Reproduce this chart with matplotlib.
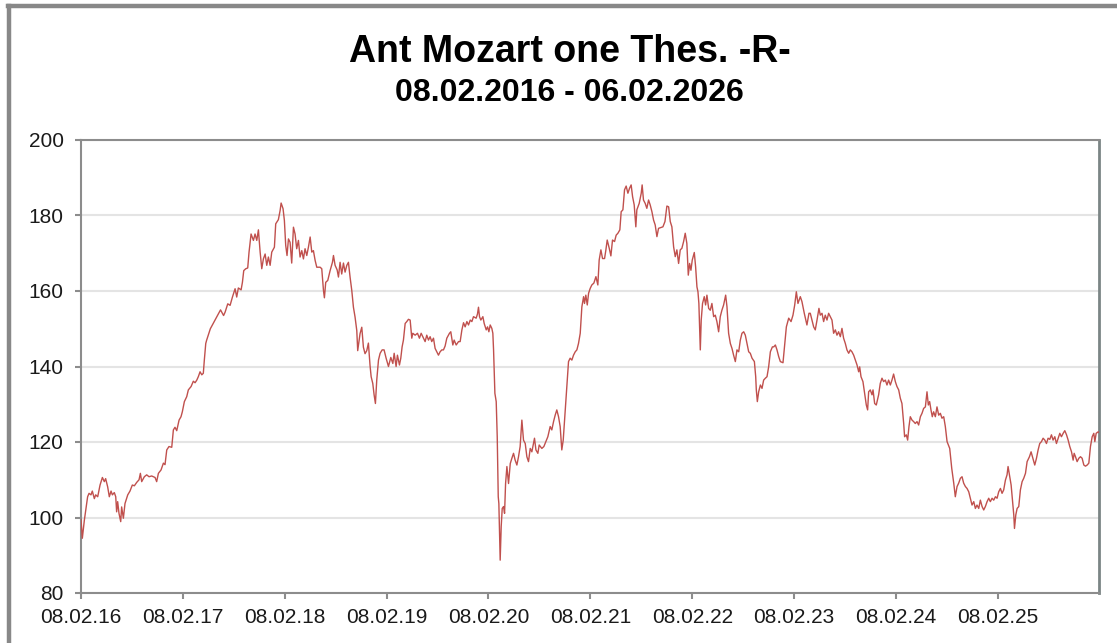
import datetime as dt
import matplotlib
matplotlib.use("Agg")
import matplotlib.pyplot as plt
import matplotlib.dates as mdates
from matplotlib.lines import Line2D

plt.rcParams['font.family'] = ['Liberation Sans', 'DejaVu Sans']

title = "Ant Mozart one Thes. -R-"
subtitle = "08.02.2016 - 06.02.2026"
start_date = dt.date(2016, 2, 8)
end_date = dt.date(2026, 2, 6)
tick_years = [2016, 2017, 2018, 2019, 2020, 2021, 2022, 2023, 2024, 2025]
y_ticks = [80, 100, 120, 140, 160, 180, 200]

# years since 08.02.2016
t_years = [
    0.000, 0.013, 0.033, 0.065, 0.079, 0.098, 0.111, 0.131, 0.144, 0.164,
    0.187, 0.210, 0.229, 0.242, 0.262, 0.278, 0.295, 0.308, 0.327, 0.341,
    0.350, 0.360, 0.373, 0.390, 0.399, 0.416, 0.432, 0.459, 0.481, 0.504,
    0.524, 0.547, 0.570, 0.583, 0.596, 0.622, 0.645, 0.668, 0.694, 0.727,
    0.743, 0.760, 0.786, 0.809, 0.825, 0.842, 0.864, 0.891, 0.907, 0.923,
    0.940, 0.963, 0.982, 0.995, 1.015, 1.038, 1.054, 1.081, 1.103, 1.120,
    1.137, 1.152, 1.169, 1.186, 1.201, 1.211, 1.225, 1.234,
    1.270, 1.320, 1.370, 1.400,
    1.415, 1.441, 1.464, 1.487, 1.513, 1.529, 1.545, 1.572, 1.585, 1.598,
    1.618, 1.637, 1.650, 1.670, 1.693, 1.709, 1.726, 1.742, 1.759, 1.775,
    1.791, 1.808, 1.824, 1.840, 1.857, 1.873, 1.899, 1.912, 1.938, 1.955,
    1.965, 1.984, 1.997, 2.010, 2.023, 2.037, 2.053, 2.069, 2.086, 2.102,
    2.118, 2.135, 2.151, 2.168, 2.184, 2.200, 2.217, 2.233, 2.250, 2.266,
    2.282, 2.299, 2.315, 2.348, 2.364, 2.381, 2.390, 2.403, 2.423, 2.446,
    2.469, 2.479, 2.495, 2.515, 2.528, 2.544, 2.560, 2.577, 2.593, 2.610,
    2.626, 2.642, 2.659, 2.675, 2.691, 2.708, 2.717, 2.740, 2.757, 2.773,
    2.789, 2.806, 2.822, 2.838,
    2.849, 2.865, 2.878, 2.891, 2.904, 2.921, 2.937, 2.957, 2.976, 2.996,
    3.019, 3.042, 3.062, 3.075, 3.094, 3.107, 3.127, 3.140, 3.153, 3.166,
    3.183, 3.199, 3.215, 3.232, 3.248, 3.258, 3.281, 3.304, 3.323, 3.340,
    3.363, 3.379, 3.395, 3.412, 3.428, 3.444, 3.461, 3.477, 3.494, 3.510,
    3.526, 3.543, 3.559, 3.575, 3.592, 3.618, 3.631, 3.651, 3.664, 3.684,
    3.707, 3.723, 3.740, 3.756, 3.772, 3.789, 3.805, 3.822, 3.838, 3.854,
    3.880, 3.893, 3.903, 3.913, 3.926, 3.946, 3.959, 3.979, 3.992, 4.005,
    4.018, 4.034, 4.044, 4.051, 4.057, 4.064, 4.077, 4.087, 4.097, 4.103,
    4.110, 4.116, 4.126, 4.136, 4.149, 4.159, 4.169, 4.182, 4.198, 4.215,
    4.231, 4.247,
    4.263, 4.280, 4.296, 4.312, 4.329, 4.345, 4.362, 4.378, 4.394, 4.411,
    4.427, 4.453, 4.467, 4.486, 4.499, 4.525, 4.545, 4.565, 4.584, 4.607,
    4.623, 4.640, 4.656, 4.672, 4.689, 4.705, 4.721, 4.735, 4.748, 4.761,
    4.774, 4.787, 4.803, 4.820, 4.836, 4.853, 4.869, 4.885, 4.902, 4.918,
    4.935, 4.944, 4.957, 4.971, 4.984, 5.000, 5.016, 5.036, 5.056, 5.075,
    5.088, 5.105, 5.121, 5.141, 5.154, 5.167, 5.187, 5.203, 5.219, 5.239,
    5.255, 5.272, 5.291, 5.304, 5.321, 5.337, 5.353, 5.370, 5.386, 5.402,
    5.416, 5.432, 5.448, 5.458, 5.481, 5.501, 5.510, 5.523, 5.540, 5.556,
    5.573, 5.589, 5.606, 5.622, 5.638, 5.655, 5.671,
    5.714, 5.734, 5.753, 5.770, 5.786, 5.802, 5.819, 5.835, 5.851, 5.868,
    5.884, 5.900, 5.917, 5.933, 5.949, 5.963, 5.976, 5.989, 6.002, 6.022,
    6.035, 6.048, 6.058, 6.067, 6.081, 6.090, 6.103, 6.120, 6.133, 6.146,
    6.163, 6.179, 6.195, 6.212, 6.228, 6.244, 6.261, 6.277, 6.293, 6.310,
    6.330, 6.343, 6.359, 6.376, 6.392, 6.408, 6.425, 6.441, 6.458, 6.474,
    6.490, 6.507, 6.523, 6.539, 6.556, 6.572, 6.589, 6.612, 6.625, 6.631,
    6.641, 6.654, 6.671, 6.687, 6.703, 6.720, 6.736, 6.752, 6.769, 6.789,
    6.802, 6.818, 6.834, 6.851, 6.867, 6.893, 6.906, 6.926, 6.949, 6.972,
    6.991, 7.008, 7.024, 7.040, 7.063, 7.079, 7.102, 7.128, 7.148,
    7.161, 7.178, 7.194, 7.210, 7.227, 7.246, 7.259, 7.276, 7.292, 7.308,
    7.325, 7.341, 7.358, 7.374, 7.390, 7.407, 7.423, 7.439, 7.456, 7.472,
    7.488, 7.505, 7.521, 7.538, 7.554, 7.570, 7.587, 7.603, 7.620, 7.636,
    7.646, 7.659, 7.678, 7.695, 7.711, 7.724, 7.734, 7.750, 7.767, 7.777,
    7.793, 7.809, 7.832, 7.848, 7.865, 7.881, 7.898, 7.914, 7.930, 7.947,
    7.963, 7.979, 7.996, 8.012, 8.029, 8.045, 8.061, 8.078, 8.087, 8.104,
    8.117, 8.130, 8.143, 8.160, 8.176, 8.192, 8.209, 8.225, 8.242, 8.258,
    8.274, 8.291, 8.307, 8.320, 8.333, 8.346, 8.359, 8.372, 8.389, 8.405,
    8.422, 8.438, 8.454, 8.471, 8.487, 8.504, 8.530, 8.550, 8.570,
    8.585, 8.602, 8.618, 8.635, 8.651, 8.667, 8.684, 8.700, 8.717, 8.733,
    8.749, 8.766, 8.782, 8.798, 8.815, 8.831, 8.848, 8.864, 8.880, 8.897,
    8.913, 8.929, 8.946, 8.962, 8.979, 8.995, 9.011, 9.028, 9.044, 9.060,
    9.077, 9.093, 9.103, 9.116, 9.133, 9.146, 9.159, 9.166, 9.179, 9.192,
    9.208, 9.224, 9.241, 9.257, 9.274, 9.290, 9.313, 9.329, 9.346, 9.365,
    9.382, 9.398, 9.414, 9.431, 9.447, 9.464, 9.480, 9.496, 9.513, 9.529,
    9.545, 9.562, 9.578, 9.595, 9.611, 9.627, 9.644, 9.660, 9.677, 9.693,
    9.709, 9.726, 9.742, 9.752, 9.765, 9.781, 9.798, 9.814, 9.830, 9.847,
    9.863, 9.880, 9.896, 9.912, 9.929, 9.945, 9.955, 9.968, 9.988, 9.996,
]

values = [
    99.5, 94.5, 99.3, 105.5, 106.4, 106.0, 107.0, 105.0, 106.0, 105.5,
    108.6, 110.6, 109.5, 110.3, 108.1, 105.5, 107.0, 106.0, 106.6, 105.5,
    101.5, 104.2, 101.1, 98.9, 102.8, 99.8, 103.7, 106.0, 107.0, 108.6,
    108.4, 109.3, 110.0, 111.7, 109.5, 110.8, 111.3, 110.8, 111.0, 110.6,
    109.5, 111.7, 112.6, 114.4, 114.0, 117.9, 118.8, 118.6, 123.2, 123.9,
    123.0, 125.8, 126.7, 128.0, 130.7, 132.0, 133.8, 134.7, 136.1, 135.7,
    136.4, 137.3, 138.6, 137.8, 138.2, 141.7, 146.1, 147.0,
    150.0, 152.5, 155.0, 153.5,
    154.4, 156.6, 156.2, 158.4, 160.6, 158.4, 160.8, 160.3, 162.3, 165.4,
    165.9, 166.1, 170.3, 175.1, 173.4, 175.1, 173.4, 176.2, 170.3, 165.9,
    168.5, 169.8, 166.8, 169.0, 166.8, 170.3, 171.6, 177.8, 178.9, 181.3,
    183.3, 181.8, 178.7, 172.1, 169.4, 173.8, 172.9, 167.4, 176.9, 175.1,
    171.2, 173.4, 169.0, 170.7, 168.5, 171.2, 169.4, 171.6, 174.3, 170.3,
    170.7, 168.1, 166.3, 166.3, 165.9, 160.1, 158.2, 162.3, 162.8, 165.4,
    167.6, 169.4, 166.8, 165.6, 163.7, 167.6, 164.5, 167.4, 165.0, 166.8,
    167.6, 163.7, 160.1, 155.7, 153.1, 149.5, 144.2, 148.7, 150.4, 145.1,
    143.4, 144.2, 146.2, 140.3,
    137.3, 135.5, 132.5, 130.2, 136.4, 141.7, 143.5, 144.4, 144.4, 142.2,
    140.0, 142.4, 140.8, 143.5, 140.0, 143.0, 140.4, 142.2, 145.2, 147.0,
    151.4, 151.9, 152.5, 152.3, 147.5, 148.8, 148.3, 148.8, 147.5, 148.8,
    147.5, 146.6, 148.3, 147.0, 147.9, 146.6, 147.5, 144.8, 143.9, 143.0,
    143.9, 144.4, 144.4, 145.4, 147.5, 148.8, 149.2, 145.7, 147.0, 145.7,
    146.6, 146.6, 149.7, 151.6, 150.5, 151.9, 151.0, 152.3, 151.9, 153.2,
    152.8, 153.9, 155.7, 153.2, 152.3, 153.2, 151.4, 149.7, 150.5, 149.2,
    151.0, 150.1, 148.8, 144.4, 139.1, 132.9, 130.7, 121.4, 105.5, 103.7,
    94.9, 88.7, 97.6, 102.4, 102.9, 101.1, 109.0, 113.5, 109.0, 114.3,
    115.7, 117.0,
    115.2, 113.9, 116.1, 118.8, 125.8, 120.5, 119.6, 116.1, 114.8, 118.3,
    117.4, 121.0, 117.9, 117.0, 119.2, 118.3, 118.8, 120.1, 121.4, 124.1,
    123.2, 125.4, 127.1, 128.5, 126.7, 124.1, 117.9, 120.5, 125.8, 131.1,
    136.4, 141.3, 142.2, 141.7, 143.0, 143.9, 144.4, 146.1, 148.8, 155.8,
    158.5, 156.7, 158.9, 156.3, 159.4, 160.7, 161.6, 162.1, 163.8, 161.6,
    168.2, 170.9, 168.6, 168.6, 170.9, 173.5, 171.3, 169.3, 173.5, 173.1,
    174.8, 175.3, 176.2, 181.0, 181.5, 186.8, 187.8, 185.9, 187.2, 188.1,
    185.0, 182.8, 177.0, 181.5, 183.2, 185.9, 188.1, 184.1, 183.2, 181.9,
    184.1, 182.8, 181.0, 178.8, 177.5, 174.4, 176.6,
    177.0, 178.4, 182.5, 182.3, 178.4, 177.0, 171.7, 169.1, 170.9, 167.3,
    170.9, 171.3, 173.1, 175.3, 172.6, 164.2, 167.3, 165.5, 168.2, 170.2,
    166.4, 161.1, 159.8, 156.7, 144.4, 152.3, 156.7, 158.5, 156.3, 158.9,
    155.4, 154.9, 156.7, 153.2, 153.6, 151.9, 149.2, 153.2, 154.9, 156.3,
    158.9, 155.8, 148.8, 146.1, 144.8, 143.0, 141.3, 144.4, 143.9, 147.0,
    148.8, 149.2, 148.3, 146.1, 143.9, 143.5, 142.2, 141.3, 137.3, 133.8,
    130.7, 133.3, 135.1, 134.2, 136.4, 136.9, 137.3, 139.9, 143.9, 145.2,
    145.2, 145.7, 144.4, 142.6, 141.3, 141.0, 144.8, 150.5, 152.8, 151.9,
    153.6, 156.3, 159.8, 156.7, 158.5, 157.2, 154.1, 151.0, 154.1,
    154.1, 152.3, 150.5, 149.7, 152.3, 155.4, 153.6, 154.1, 151.9, 153.6,
    152.3, 154.1, 153.2, 152.3, 148.8, 149.7, 148.3, 149.2, 147.9, 150.1,
    147.5, 146.1, 144.4, 143.5, 144.4, 143.9, 143.0, 141.7, 140.4, 138.6,
    139.9, 137.3, 136.0, 132.9, 129.8, 128.5, 133.3, 133.8, 132.5, 133.8,
    130.2, 129.8, 132.5, 135.5, 136.9, 136.0, 136.4, 135.1, 136.4, 135.1,
    136.4, 138.0, 136.0, 134.7, 133.8, 131.6, 130.2, 124.9, 121.4, 121.9,
    120.5, 124.1, 126.7, 125.8, 125.4, 124.9, 125.4, 124.5, 126.7, 127.6,
    128.9, 129.3, 133.3, 129.8, 130.7, 128.5, 126.7, 128.0, 126.7, 129.3,
    127.1, 127.6, 126.3, 126.7, 124.1, 120.1, 118.3, 113.0, 109.0,
    105.5, 108.2, 109.1, 110.4, 110.8, 109.1, 108.2, 107.7, 106.8, 105.1,
    103.3, 104.2, 102.4, 103.3, 102.4, 104.6, 102.9, 102.0, 102.9, 104.2,
    105.1, 104.2, 105.1, 104.6, 105.5, 105.1, 106.8, 107.7, 106.4, 107.3,
    109.9, 111.3, 113.5, 111.3, 108.6, 104.6, 100.7, 97.1, 100.7, 102.4,
    102.9, 107.3, 109.5, 110.4, 111.7, 114.8, 116.1, 117.4, 115.7, 113.9,
    115.7, 117.9, 119.6, 120.1, 121.0, 120.5, 119.6, 121.0, 120.7, 121.9,
    120.5, 121.4, 119.6, 121.0, 122.3, 121.4, 122.3, 123.0, 121.9, 120.5,
    118.8, 117.4, 115.2, 117.0, 116.1, 114.8, 115.7, 116.1, 115.7, 113.9,
    113.6, 113.9, 114.4, 118.8, 121.4, 122.3, 120.1, 122.3, 122.7, 122.5,
]

start_num = mdates.date2num(start_date)
x = [start_num + t * 365.25 for t in t_years]

fig = plt.figure(figsize=(11.17, 6.43), dpi=100)
ax = fig.add_axes([81 / 1117, 1 - 593 / 643, (1099 - 81) / 1117, (593 - 140) / 643])

ax.plot(x, values, color='#c0504d', linewidth=1.0, zorder=3)

ax.set_xlim(start_num, mdates.date2num(end_date))
ax.set_ylim(80, 200)
ax.set_yticks(y_ticks)
ax.set_xticks([mdates.date2num(dt.date(y, 2, 8)) for y in tick_years])
ax.xaxis.set_major_formatter(mdates.DateFormatter('%d.%m.%y'))

ax.grid(axis='y', color='#e4e4e4', linewidth=1.5, zorder=0)
ax.set_axisbelow(True)

for side in ['left', 'bottom', 'top']:
    ax.spines[side].set_color('#8c8c8c')
    ax.spines[side].set_linewidth(1.5)
ax.spines['right'].set_color('#7b8585')
ax.spines['right'].set_linewidth(2)

ax.tick_params(axis='both', direction='out', length=4.5, width=1.5,
               color='#8c8c8c', labelsize=15, labelcolor='#1a1a1a')
ax.tick_params(axis='y', pad=8)
ax.tick_params(axis='x', pad=6)

fig.text(0.51, 1 - 62 / 643, title, ha='center', va='baseline',
         fontsize=27, fontweight='bold', color='black')
fig.text(0.51, 1 - 101 / 643, subtitle, ha='center', va='baseline',
         fontsize=23, fontweight='bold', color='black')

# grey panel frame at the top and left edge
fig.add_artist(Line2D([9.5 / 1117, 9.5 / 1117], [0, 1 - 6 / 643],
                      transform=fig.transFigure, color='#888888', linewidth=3.2))
fig.add_artist(Line2D([8 / 1117, 1], [1 - 6 / 643, 1 - 6 / 643],
                      transform=fig.transFigure, color='#888888', linewidth=3.2))

fig.savefig('out.png', dpi=100)
